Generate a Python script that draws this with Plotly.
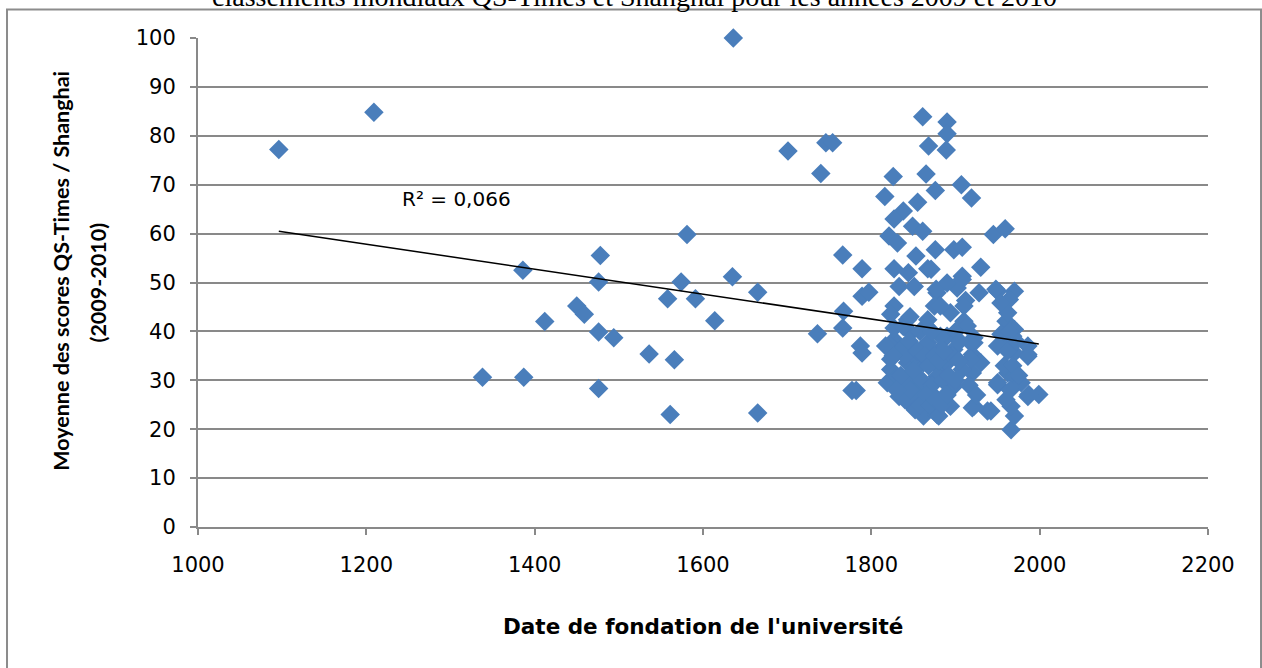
import numpy as np
import plotly.graph_objects as go

# Founding year of each university and its mean QS-Times / Shanghai score (2009-2010)
founding_year = [
    1096, 1209, 1636, 1338, 1386, 1387, 1412, 1450, 1459, 1478, 1476, 1476, 1476,
    1494, 1536, 1558, 1561, 1566, 1574, 1581, 1591, 1614, 1635, 1665, 1665, 1701,
    1746, 1754, 1740, 1861, 1890, 1890, 1868, 1889, 1826, 1865, 1876, 1907, 1919,
    1816, 1855, 1838, 1827, 1849, 1861, 1821, 1831, 1945, 1959, 1766, 1789, 1876,
    1898, 1908, 1853, 1827, 1867, 1844, 1930, 1908, 1871, 1789, 1797, 1833, 1851,
    1878, 1902, 1928, 1950, 1970, 1964, 1877, 1890, 1908, 1948, 1912, 1767, 1766,
    1736, 1827, 1875, 1843, 1865, 1894, 1910, 1960, 1968, 1787, 1827, 1922, 1986,
    1789, 1782, 1777, 1823, 1819, 1833, 1849, 1862, 1878, 1894, 1920, 1938, 1966,
    1970, 1986, 1999, 1950, 1962, 1986, 1966, 1954, 1920, 1920, 1898, 1882, 1882,
    1862, 1855, 1843, 1835, 1867, 1890, 1922, 1930, 1823, 1871, 1855, 1843, 1817,
    1827, 1823, 1847, 1867, 1882, 1910, 1914, 1918, 1918, 1908, 1890, 1878, 1859,
    1831, 1823, 1851, 1867, 1882, 1898, 1950, 1970, 1950, 1970, 1966, 1978, 1880,
    1922, 1942, 1987, 1986, 1970, 1962, 1954,
    1835, 1840, 1845, 1850, 1855, 1860, 1863, 1868, 1872, 1875, 1880, 1885, 1888,
    1892, 1896, 1900, 1904, 1840, 1846, 1852, 1858, 1865, 1870, 1876, 1884, 1890,
    1826, 1830, 1838, 1846, 1858, 1872, 1886, 1900, 1905, 1916, 1925,
    1958, 1962, 1965, 1968, 1972, 1960, 1975, 1964,
]
mean_score = [
    77.2, 84.8, 100.0, 30.6, 52.5, 30.6, 42.0, 45.2, 43.5, 55.5, 50.1, 39.9, 28.3,
    38.7, 35.4, 46.7, 23.0, 34.2, 50.1, 59.8, 46.7, 42.2, 51.2, 23.3, 48.0, 76.9,
    78.6, 78.6, 72.3, 83.9, 82.8, 80.4, 77.9, 77.1, 71.7, 72.2, 68.8, 70.0, 67.3,
    67.6, 66.4, 64.6, 63.0, 61.5, 60.5, 59.5, 58.1, 59.8, 61.0, 55.6, 52.8, 56.7,
    56.7, 57.2, 55.4, 52.8, 52.8, 52.0, 53.1, 51.3, 52.7, 47.2, 48.0, 49.2, 49.2,
    47.9, 48.9, 47.9, 48.2, 48.2, 46.5, 48.6, 49.9, 50.6, 48.6, 46.3, 44.1, 40.7,
    39.5, 45.2, 45.2, 42.4, 41.1, 43.8, 42.1, 42.1, 39.0, 37.0, 38.3, 38.7, 37.0,
    35.6, 27.9, 27.9, 37.0, 29.5, 26.7, 24.7, 22.7, 23.0, 24.7, 24.4, 23.7, 19.9,
    22.7, 26.7, 27.1, 29.1, 31.5, 35.3, 37.7, 39.4, 35.3, 31.5, 28.8, 32.2, 36.3,
    33.6, 30.8, 33.6, 36.3, 37.7, 39.0, 37.7, 33.6, 32.2, 27.4, 26.1, 29.5, 37.0,
    40.7, 43.5, 39.7, 42.4, 45.2, 45.2, 41.1, 37.7, 34.3, 32.2, 33.6, 30.8, 28.8,
    30.8, 34.3, 34.9, 37.0, 39.0, 36.3, 37.0, 35.6, 29.5, 30.8, 24.7, 29.5, 22.7,
    24.7, 23.7, 27.1, 34.9, 40.4, 43.8, 45.8,
    31.0, 35.0, 38.0, 32.0, 36.0, 30.0, 35.0, 33.0, 29.0, 35.0, 34.0, 30.0, 27.0,
    31.0, 35.0, 30.0, 34.0, 26.0, 28.0, 24.0, 25.0, 27.0, 25.0, 26.0, 25.0, 27.0,
    35.0, 28.0, 41.0, 43.0, 40.0, 40.0, 36.0, 40.0, 38.0, 29.0, 27.0,
    33.0, 36.0, 28.0, 33.0, 38.0, 26.0, 31.0, 40.0,
]

x_ticks = [1000, 1200, 1400, 1600, 1800, 2000, 2200]
y_ticks = [0, 10, 20, 30, 40, 50, 60, 70, 80, 90, 100]
r2_label = "R² = 0,066"

heading = "classements mondiaux QS-Times et Shanghai pour les années 2009 et 2010"
x_title = "Date de fondation de l'université"
y_title_lines = ["Moyenne des scores QS-Times / Shanghai", "(2009-2010)"]

# Linear trend over the observed range
xs = np.array(founding_year, dtype=float)
ys = np.array(mean_score, dtype=float)
slope, intercept = np.polyfit(xs, ys, 1)
trend_x = np.array([xs.min(), xs.max()])
trend_y = slope * trend_x + intercept

TICK_FONT = "DejaVu Sans"
GRID = "#898989"

fig = go.Figure()
fig.add_trace(go.Scatter(
    x=founding_year, y=mean_score, mode="markers", cliponaxis=False,
    marker=dict(symbol="diamond", size=15, color="#4A7EBB", line=dict(width=0)),
    showlegend=False,
))
fig.add_trace(go.Scatter(
    x=trend_x, y=trend_y, mode="lines",
    line=dict(color="black", width=1.5), showlegend=False,
))

axis_common = dict(
    zeroline=False, showline=True, linecolor=GRID, linewidth=2,
    ticks="outside", ticklen=6, tickcolor=GRID, tickwidth=1.5,
    tickfont=dict(family=TICK_FONT, size=21, color="black"), fixedrange=True,
)

fig.update_layout(
    width=1262, height=668,
    margin=dict(l=198, r=54, t=38, b=141),
    paper_bgcolor="white", plot_bgcolor="white",
    font=dict(family=TICK_FONT, size=20, color="black"),
    xaxis=dict(range=[1000, 2200], tickvals=x_ticks,
               ticktext=[str(v) for v in x_ticks], showgrid=False,
               ticklabelstandoff=12, **axis_common),
    yaxis=dict(range=[0, 100], tickvals=y_ticks,
               ticktext=[str(v) for v in y_ticks], showgrid=True,
               gridcolor=GRID, gridwidth=1.5, ticklabelstandoff=10, **axis_common),
    shapes=[dict(
        type="rect", xref="paper", yref="paper",
        x0=-0.1891, x1=1.0525, y0=-0.5, y1=1.0583,
        line=dict(color="#8c8c8c", width=2), layer="below",
    )],
    annotations=[
        dict(text=r2_label, x=1307, y=67.1, xref="x", yref="y",
             showarrow=False, font=dict(family=TICK_FONT, size=20)),
        dict(text="<b>" + x_title + "</b>", x=0.5, y=-0.2035,
             xref="paper", yref="paper", showarrow=False,
             font=dict(family=TICK_FONT, size=21.5, color="black"),
             yanchor="middle"),
        dict(text="<b>" + y_title_lines[0] + "</b>", x=-0.1357, y=0.524,
             xref="paper", yref="paper", textangle=-90, showarrow=False,
             font=dict(family="Lato", size=21.5, color="black"),
             xanchor="center", yanchor="middle"),
        dict(text="<b>" + y_title_lines[1] + "</b>", x=-0.1,
             y=0.5, xref="paper", yref="paper", textangle=-90, showarrow=False,
             font=dict(family="Lato", size=21.5, color="black"),
             xanchor="center", yanchor="middle"),
        dict(text=heading, x=0.4317, y=1.085, xref="paper", yref="paper",
             showarrow=False,
             font=dict(family="Liberation Serif", size=28, color="black"),
             yanchor="middle"),
    ],
)

fig.write_html("out.html")
